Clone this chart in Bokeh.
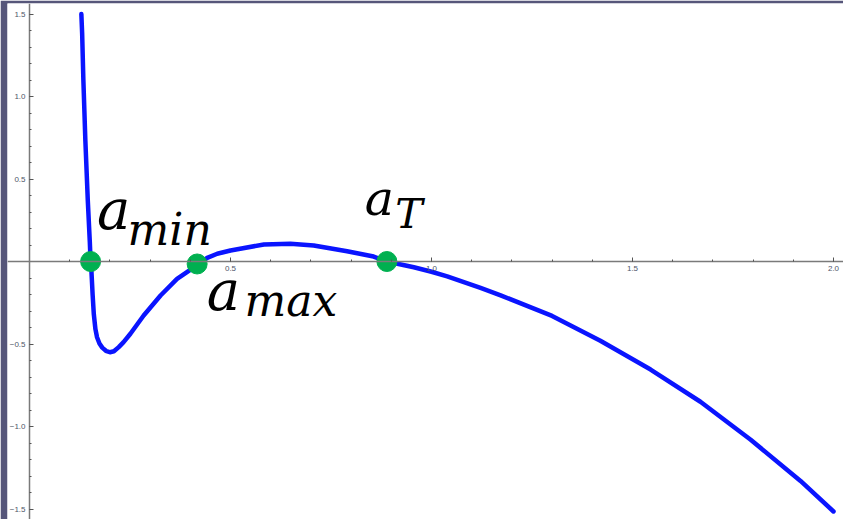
from bokeh.plotting import figure
from bokeh.models import FixedTicker, Range1d
from bokeh.core.properties import value
from bokeh.embed import file_html
from bokeh.resources import INLINE

# Sampled curve (scale factor a vs. potential-like quantity)
curve_x = [0.129, 0.131, 0.134, 0.139, 0.145, 0.150, 0.152, 0.154, 0.157, 0.160,
           0.164, 0.168, 0.174, 0.181, 0.190, 0.200, 0.210, 0.222, 0.234, 0.251,
           0.284, 0.326, 0.367, 0.409, 0.442, 0.467, 0.500, 0.583, 0.649, 0.707,
           0.790, 0.856, 0.889, 0.956, 1.000, 1.039, 1.122, 1.172, 1.300, 1.420,
           1.545, 1.669, 1.794, 1.918, 2.000]
curve_y = [1.500, 1.380, 1.100, 0.730, 0.370, 0.120, 0.000, -0.055, -0.200, -0.320,
           -0.410, -0.459, -0.497, -0.522, -0.541, -0.550, -0.544, -0.519, -0.489, -0.438,
           -0.327, -0.206, -0.105, -0.035, 0.022, 0.047, 0.067, 0.103, 0.107, 0.097,
           0.062, 0.030, 0.000, -0.035, -0.062, -0.090, -0.160, -0.205, -0.330, -0.480,
           -0.655, -0.850, -1.080, -1.330, -1.515]

# Marked points: a_min, a_max, a_T
point_x = [0.152, 0.417, 0.889]
point_y = [0.000, -0.015, 0.000]

x_major = [0.5, 1.0, 1.5, 2.0]
x_minor = [i / 10 for i in range(1, 21)]
y_major = [-1.5, -1.0, -0.5, 0.5, 1.0, 1.5]
y_minor = [i / 10 for i in range(-15, 16) if i != 0]
y_labels = {-1.5: "\u22121.5", -1.0: "\u22121.0", -0.5: "\u22120.5",
            0.5: "0.5", 1.0: "1.0", 1.5: "1.5"}

p = figure(width=843, height=519, output_backend="svg", toolbar_location=None,
           x_range=Range1d(-22 / 402, 814 / 402), y_range=Range1d(-258 / 165, 258 / 165),
           min_border_left=7, min_border_top=3, min_border_right=0, min_border_bottom=0,
           border_fill_color="#56567a", background_fill_color="white")
p.outline_line_color = None
p.grid.visible = False

for ax in (p.xaxis[0], p.yaxis[0]):
    ax.fixed_location = 0
    ax.axis_line_color = "#7a7a7a"
    ax.axis_line_width = 1.5
    ax.major_tick_line_color = "#555555"
    ax.minor_tick_line_color = "#555555"
    ax.major_tick_in = 4
    ax.major_tick_out = 0
    ax.minor_tick_in = 2
    ax.minor_tick_out = 0
    ax.major_label_text_font = "Liberation Sans"
    ax.major_label_text_font_size = "8px"
    ax.major_label_text_color = "#4d5568"
    ax.major_label_standoff = 4

p.xaxis.ticker = FixedTicker(ticks=x_major, minor_ticks=x_minor)
p.yaxis.ticker = FixedTicker(ticks=y_major, minor_ticks=y_minor)
p.xaxis.major_label_overrides = {v: f"{v:.1f}" for v in x_major}
p.yaxis.major_label_overrides = y_labels

p.line(curve_x, curve_y, line_color="#0a14ff", line_width=4.5, line_join="round", line_cap="round")
p.scatter(point_x, point_y, size=20, fill_color="#00b050", line_color="#00b050")

serif = value("DejaVu Serif")
# base letters
p.text(x=[0.168, 0.441], y=[0.315, -0.176], text=["a", "a"],
       text_font=serif, text_font_style="italic",
       text_font_size={"value": "56px"}, text_color="black", text_baseline="alphabetic")
p.text(x=[0.834], y=[0.382], text=["a"],
       text_font=serif, text_font_style="italic",
       text_font_size={"value": "49px"}, text_color="black", text_baseline="alphabetic")
# subscripts
p.text(x=[0.244, 0.535], y=[0.194, -0.236], text=["min", "max"],
       text_font=serif, text_font_style="italic",
       text_font_size={"value": "44px"}, text_color="black", text_baseline="alphabetic")
p.text(x=[0.910], y=[0.285], text=["T"],
       text_font=serif, text_font_style="italic",
       text_font_size={"value": "41px"}, text_color="black", text_baseline="alphabetic")

open("out.html", "w").write(file_html(p, INLINE))
